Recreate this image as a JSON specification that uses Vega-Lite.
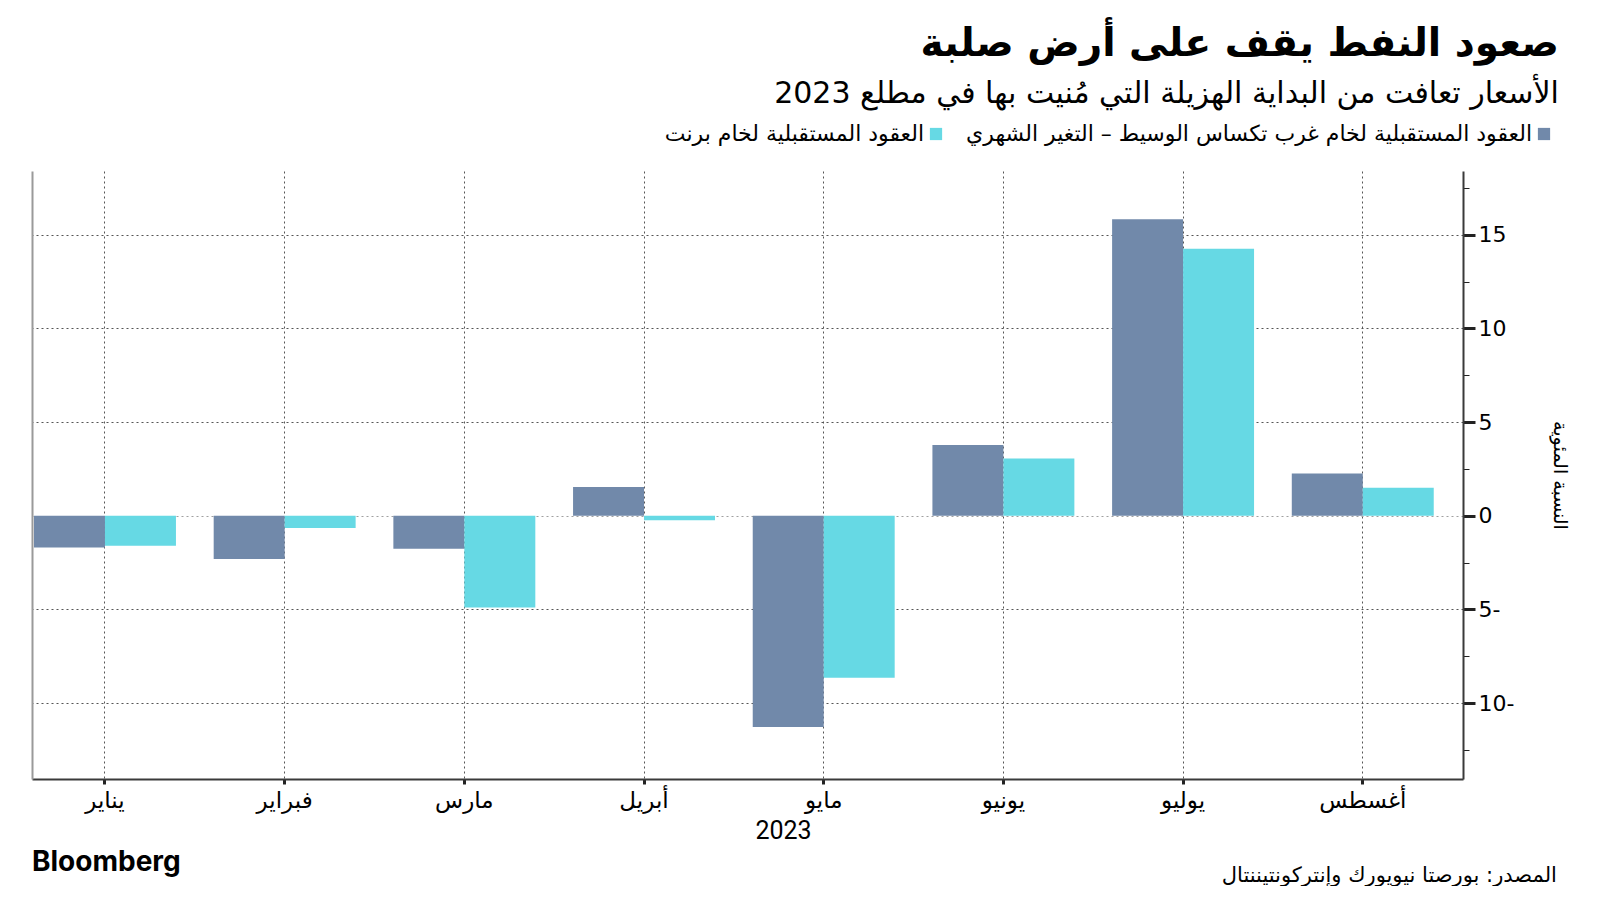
{
  "$schema": "https://vega.github.io/schema/vega-lite/v6.json",
  "background": "white",
  "padding": {"left": 32, "top": 25, "right": 30, "bottom": 0},
  "title": {
    "text": "صعود النفط يقف على أرض صلبة",
    "subtitle": "الأسعار تعافت من البداية الهزيلة التي مُنيت بها في مطلع 2023",
    "anchor": "end",
    "frame": "bounds",
    "orient": "top",
    "font": "DejaVu Sans",
    "fontSize": 39,
    "fontWeight": "bold",
    "color": "#000000",
    "subtitleFont": "DejaVu Sans",
    "subtitleFontSize": 30,
    "subtitleColor": "#000000",
    "subtitlePadding": 15,
    "offset": 14,
    "dx": -10
  },
  "vconcat": [
    {
      "title": {
        "text": "المصدر: بورصتا نيويورك وإنتركونتيننتال",
        "orient": "bottom",
        "anchor": "end",
        "frame": "bounds",
        "font": "DejaVu Sans",
        "fontSize": 21,
        "fontWeight": "normal",
        "color": "#000000",
        "offset": -12,
        "dx": -12
      },
      "vconcat": [
        {
          "title": {
            "text": "Bloomberg",
            "orient": "bottom",
            "anchor": "start",
            "frame": "group",
            "font": "Inter",
            "fontSize": 28,
            "fontWeight": "bold",
            "color": "#000000",
            "offset": 6
          },
          "width": 1431,
          "height": 608,
          "data": {
            "values": [
              {"month": "يناير", "series": "العقود المستقبلية لخام غرب تكساس الوسيط – التغير الشهري", "value": -1.69},
              {"month": "يناير", "series": "العقود المستقبلية لخام برنت", "value": -1.6},
              {"month": "فبراير", "series": "العقود المستقبلية لخام غرب تكساس الوسيط – التغير الشهري", "value": -2.31},
              {"month": "فبراير", "series": "العقود المستقبلية لخام برنت", "value": -0.66},
              {"month": "مارس", "series": "العقود المستقبلية لخام غرب تكساس الوسيط – التغير الشهري", "value": -1.76},
              {"month": "مارس", "series": "العقود المستقبلية لخام برنت", "value": -4.9},
              {"month": "أبريل", "series": "العقود المستقبلية لخام غرب تكساس الوسيط – التغير الشهري", "value": 1.53},
              {"month": "أبريل", "series": "العقود المستقبلية لخام برنت", "value": -0.24},
              {"month": "مايو", "series": "العقود المستقبلية لخام غرب تكساس الوسيط – التغير الشهري", "value": -11.27},
              {"month": "مايو", "series": "العقود المستقبلية لخام برنت", "value": -8.64},
              {"month": "يونيو", "series": "العقود المستقبلية لخام غرب تكساس الوسيط – التغير الشهري", "value": 3.77},
              {"month": "يونيو", "series": "العقود المستقبلية لخام برنت", "value": 3.06},
              {"month": "يوليو", "series": "العقود المستقبلية لخام غرب تكساس الوسيط – التغير الشهري", "value": 15.82},
              {"month": "يوليو", "series": "العقود المستقبلية لخام برنت", "value": 14.25},
              {"month": "أغسطس", "series": "العقود المستقبلية لخام غرب تكساس الوسيط – التغير الشهري", "value": 2.25},
              {"month": "أغسطس", "series": "العقود المستقبلية لخام برنت", "value": 1.49}
            ]
          },
          "layer": [
            {
              "mark": {"type": "rule", "opacity": 0},
              "encoding": {
                "y": {
                  "datum": 0,
                  "type": "quantitative",
                  "scale": {"domain": [-14.05, 18.4], "nice": false, "zero": false},
                  "axis": {
                    "orient": "left",
                    "labels": false,
                    "ticks": false,
                    "grid": false,
                    "title": null,
                    "domain": true,
                    "domainColor": "#9a9a9a",
                    "domainWidth": 2
                  }
                }
              }
            },
            {
              "mark": {"type": "bar"},
              "encoding": {
                "x": {
                  "field": "month",
                  "type": "nominal",
                  "sort": ["يناير", "فبراير", "مارس", "أبريل", "مايو", "يونيو", "يوليو", "أغسطس"],
                  "scale": {"paddingInner": 0.21, "paddingOuter": 0.087, "align": 0.064, "round": false},
                  "axis": {
                    "title": "2023",
                    "titleFont": "Roboto",
                    "titleFontSize": 25,
                    "titleFontWeight": "normal",
                    "titleColor": "#000000",
                    "titlePadding": 6,
                    "titleX": 751,
                    "labelAngle": 0,
                    "labelFont": "DejaVu Sans",
                    "labelFontSize": 23,
                    "labelColor": "#000000",
                    "labelPadding": 5,
                    "bandPosition": 0.5,
                    "grid": true,
                    "gridColor": "#555555",
                    "gridDash": [2, 3],
                    "gridWidth": 1,
                    "ticks": true,
                    "tickSize": 5,
                    "tickWidth": 3,
                    "tickColor": "#222222",
                    "domain": true,
                    "domainColor": "#3a3a3a",
                    "domainWidth": 2
                  }
                },
                "xOffset": {
                  "field": "series",
                  "type": "nominal",
                  "scale": {"domain": ["العقود المستقبلية لخام غرب تكساس الوسيط – التغير الشهري", "العقود المستقبلية لخام برنت"]}
                },
                "y": {
                  "field": "value",
                  "type": "quantitative",
                  "scale": {"domain": [-14.05, 18.4], "nice": false, "zero": false},
                  "axis": {
                    "orient": "right",
                    "values": [-12.5, -10, -7.5, -5, -2.5, 0, 2.5, 5, 7.5, 10, 12.5, 15, 17.5],
                    "labelExpr": "datum.value % 5 !== 0 ? '' : (datum.value < 0 ? format(-datum.value, 'd') + '-' : format(datum.value, 'd'))",
                    "labelFont": "DejaVu Sans",
                    "labelFontSize": 22,
                    "labelColor": "#000000",
                    "labelPadding": 3,
                    "grid": true,
                    "gridDash": [2, 3],
                    "gridColor": {"condition": {"test": "datum.value === 0", "value": "#a0a0a0"}, "value": "#555555"},
                    "gridOpacity": {"condition": {"test": "datum.value % 5 === 0", "value": 1}, "value": 0},
                    "tickSize": {"condition": {"test": "datum.value % 5 === 0", "value": 12}, "value": 6},
                    "tickWidth": {"condition": {"test": "datum.value % 5 === 0", "value": 3}, "value": 1},
                    "tickColor": "#222222",
                    "domainColor": "#3a3a3a",
                    "domainWidth": 2,
                    "title": "النسبة المئوية",
                    "titleFont": "DejaVu Sans",
                    "titleFontSize": 19,
                    "titleFontWeight": "normal",
                    "titleColor": "#000000",
                    "titlePadding": 36
                  }
                },
                "color": {
                  "field": "series",
                  "type": "nominal",
                  "scale": {
                    "domain": ["العقود المستقبلية لخام برنت", "العقود المستقبلية لخام غرب تكساس الوسيط – التغير الشهري"],
                    "range": ["#66d9e4", "#7189aa"]
                  },
                  "legend": {
                    "orient": "none",
                    "legendX": 893,
                    "legendY": -48,
                    "direction": "horizontal",
                    "title": null,
                    "symbolType": "square",
                    "symbolSize": 150,
                    "symbolStrokeWidth": 0,
                    "labelFont": "DejaVu Sans",
                    "labelFontSize": 22,
                    "labelColor": "#000000",
                    "labelAlign": "right",
                    "labelOffset": -23,
                    "labelLimit": 800,
                    "columnPadding": 23
                  }
                }
              }
            }
          ],
          "resolve": {"axis": {"y": "independent"}}
        }
      ]
    }
  ],
  "config": {
    "view": {"stroke": null},
    "concat": {"spacing": 0}
  }
}
